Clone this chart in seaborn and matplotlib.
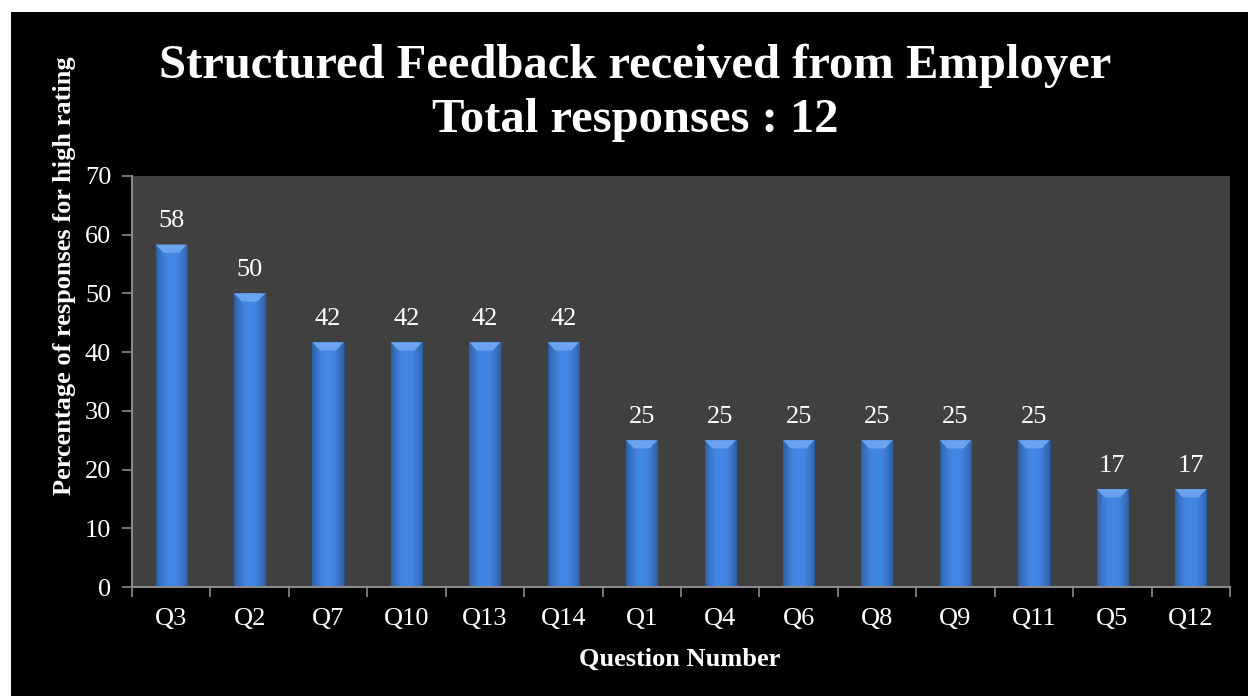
import matplotlib
matplotlib.use("Agg")
import matplotlib.pyplot as plt
import matplotlib.patches as mpatches
import numpy as np
import pandas as pd
import seaborn as sns

questions = ["Q3", "Q2", "Q7", "Q10", "Q13", "Q14", "Q1", "Q4", "Q6", "Q8", "Q9", "Q11", "Q5", "Q12"]
percent = [58.33, 50.0, 41.67, 41.67, 41.67, 41.67, 25.0, 25.0, 25.0, 25.0, 25.0, 25.0, 16.67, 16.67]
y_ticks = [0, 10, 20, 30, 40, 50, 60, 70]
title_line1 = "Structured Feedback received from Employer"
title_line2 = "Total responses : 12"
x_title = "Question Number"
y_title = "Percentage of responses for high rating"

sns.set_theme(style="white")
plt.rcParams["font.family"] = ["Liberation Serif", "DejaVu Serif"]

df = pd.DataFrame({"q": questions, "p": percent})

fig = plt.figure(figsize=(12.48, 6.96), dpi=100, facecolor="white")
# black panel
fig.patches.append(mpatches.Rectangle((11 / 1248, 0), 1 - 11 / 1248, (696 - 12) / 696,
                                      transform=fig.transFigure, facecolor="black",
                                      edgecolor="none", zorder=-10))
ax = fig.add_axes([132 / 1248, 1 - 587 / 696, (1230 - 132) / 1248, (587 - 176) / 696])
ax.set_facecolor("#404040")

sns.barplot(data=df, x="q", y="p", ax=ax, color="#3d7bd2", width=0.40,
            saturation=1, edgecolor="#1f4f8f", linewidth=0.6, order=questions)

ax.set_ylim(0, 70)
ax.set_xlim(-0.5, len(questions) - 0.5)
ax.set_yticks(y_ticks)

# gradient + bevel on each bar
grad = np.linspace(0, 1, 64)
shade = 1 - 0.6 * (np.abs(grad - 0.5) * 2) ** 2.0
base = np.array([0x3d, 0x7b, 0xd2]) / 255.0
for patch, val in zip(list(ax.patches), percent):
    x0 = patch.get_x()
    w = patch.get_width()
    h = patch.get_height()
    img = np.zeros((1, 64, 3))
    for k in range(3):
        img[0, :, k] = np.clip(base[k] * (0.55 + 0.55 * shade), 0, 1)
    im = ax.imshow(img, extent=[x0, x0 + w, 0, h], aspect="auto", zorder=2.5,
                   interpolation="bicubic")
    im.set_clip_path(patch)
    bev = 1.4
    inset = w * 0.25
    top = mpatches.Polygon([[x0, h], [x0 + w, h], [x0 + w - inset, h - bev], [x0 + inset, h - bev]],
                           closed=True, facecolor="#6aa4ee", edgecolor="none", zorder=2.6)
    ax.add_patch(top)
    ax.annotate(f"{val:.0f}", (x0 + w / 2, h), xytext=(0, 9), textcoords="offset points",
                ha="center", va="bottom", color="white", fontsize=19)

ax.set_xlim(-0.5, len(questions) - 0.5)
ax.set_ylim(0, 70)

for s in ["top", "right"]:
    ax.spines[s].set_visible(False)
for s in ["left", "bottom"]:
    ax.spines[s].set_color("#8a8a8a")
    ax.spines[s].set_linewidth(1.5)

ax.tick_params(axis="y", which="major", direction="out", length=7, width=1.2, color="#8a8a8a",
               labelcolor="white", labelsize=19, pad=8, left=True)
ax.set_xticks(np.arange(-0.5, len(questions) + 0.5, 1), minor=True)
ax.tick_params(axis="x", which="minor", direction="out", length=7, width=1.2, color="#8a8a8a", bottom=True)
ax.tick_params(axis="x", which="major", length=0, labelcolor="white", labelsize=19, pad=15)

ax.set_xlabel(x_title, color="white", fontsize=19, fontweight="bold")
ax.set_ylabel(y_title, color="white", fontsize=19, fontweight="bold")
ax.xaxis.set_label_coords((680 - 132) / 1098, (587 - 659) / 411)
ax.yaxis.set_label_coords((65 - 132) / 1098, (587 - 276) / 411)
ax.xaxis.label.set_va("center")
ax.yaxis.label.set_va("center")

fig.text(635 / 1248, 1 - 78 / 696, title_line1, ha="center", va="baseline", color="white",
         fontsize=35, fontweight="bold")
fig.text(635 / 1248, 1 - 132 / 696, title_line2, ha="center", va="baseline", color="white",
         fontsize=35, fontweight="bold")

fig.savefig("out.png", dpi=100, facecolor=fig.get_facecolor())
